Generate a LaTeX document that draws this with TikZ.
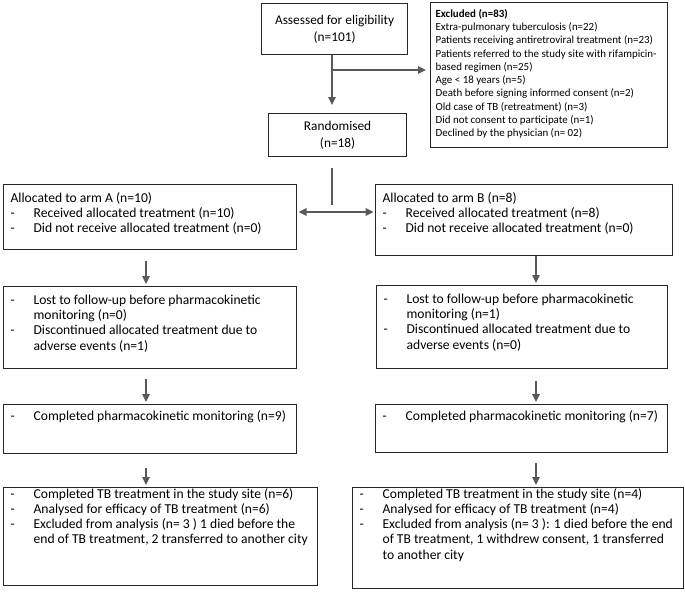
\documentclass[tikz,border=0pt]{standalone}
\usepackage{fontspec}
\setmainfont{Carlito}
\usetikzlibrary{arrows.meta,calc}
\definecolor{flowgray}{RGB}{89,89,89}
% top aligned box content: [top pad]{width}{height}{text}
\newcommand{\cbox}[4][5]{\parbox[t][#3][t]{#2}{\vspace*{#1pt}\raggedright\leftskip=5.25pt\relax #4}}
\newcommand{\itm}[1]{\par\hangindent=17.25pt\noindent\makebox[17.25pt][l]{\strut-}#1\par}

\begin{document}
\begin{tikzpicture}[x=0.75pt, y=-0.75pt,
    box/.style={draw=black!85, line width=0.9pt, inner sep=0pt, anchor=north west,
        font=\fontsize{10.2}{11.4}\selectfont},
    ctrbox/.style={box, align=center, font=\fontsize{10}{13}\selectfont},
    ln/.style={draw=flowgray, line width=1.5pt},
    arr/.style={ln, -{Triangle[length=6pt,width=5.5pt]}, shorten >=1.5pt},
    arrtwo/.style={ln, {Triangle[length=6pt,width=5.5pt]}-{Triangle[length=6pt,width=5.5pt]}}]
    \useasboundingbox (0,0) rectangle (685,594);

    % screening
    \node[ctrbox, minimum width=109.5pt, minimum height=38.25pt] (elig) at (261,3)
        {Assessed for eligibility\\(n=101)};
    \node[box] (excl) at (430,2) {\cbox[4]{177.75pt}{108.75pt}{\fontsize{8.2}{9.95}\selectfont\leftskip=3.75pt
        \strut\textbf{Excluded (n=83)}\\
        Extra-pulmonary tuberculosis (n=22)\\
        Patients receiving antiretroviral treatment (n=23)\\
        Patients referred to the study site with rifampicin-\\
        based regimen (n=25)\\
        Age < 18 years (n=5)\\
        Death before signing informed consent (n=2)\\
        Old case of TB (retreatment) (n=3)\\
        Did not consent to participate (n=1)\\
        Declined by the physician (n= 02)}};
    \node[ctrbox, minimum width=103.5pt, minimum height=32.25pt] (rand) at (268,113)
        {Randomised\\(n=18)};

    % arm A
    \node[box] (armA) at (3,184) {\cbox[5.4]{219.75pt}{48.75pt}{\strut Allocated to arm A (n=10)
        \itm{Received allocated treatment (n=10)}
        \itm{Did not receive allocated treatment (n=0)}}};
    \node[box] (lostA) at (3,286) {\cbox[5.4]{219.75pt}{61.5pt}{%
        \itm{Lost to follow-up before pharmacokinetic\newline monitoring (n=0)}
        \itm{Discontinued allocated treatment due to\newline adverse events (n=1)}}};
    \node[box] (pkA) at (3,404) {\cbox[4]{219.75pt}{36.75pt}{%
        \itm{Completed pharmacokinetic monitoring (n=9)}}};
    \node[box] (tbA) at (3,487) {\cbox[0]{235.5pt}{73.5pt}{%
        \itm{Completed TB treatment in the study site (n=6)}
        \itm{Analysed for efficacy of TB treatment (n=6)}
        \itm{Excluded from analysis (n= 3 ) 1 died before the\newline end of TB treatment, 2 transferred to another city}}};

    % arm B
    \node[box] (armB) at (375,184) {\cbox[5.4]{222.75pt}{53.25pt}{\strut Allocated to arm B (n=8)
        \itm{Received allocated treatment (n=8)}
        \itm{Did not receive allocated treatment (n=0)}}};
    \node[box] (lostB) at (376,285) {\cbox[5.4]{218.25pt}{62.25pt}{%
        \itm{Lost to follow-up before pharmacokinetic\newline monitoring (n=1)}
        \itm{Discontinued allocated treatment due to\newline adverse events (n=0)}}};
    \node[box] (pkB) at (375,404) {\cbox[4]{219pt}{36pt}{%
        \itm{Completed pharmacokinetic monitoring (n=7)}}};
    \node[box] (tbB) at (352,487) {\cbox[0]{248.25pt}{75.75pt}{%
        \itm{Completed TB treatment in the study site (n=4)}
        \itm{Analysed for efficacy of TB treatment (n=4)}
        \itm{Excluded from analysis (n= 3 ): 1 died before the~end\newline of TB treatment, 1 withdrew consent, 1~transferred\newline to another city}}};

    % connectors
    \coordinate (spine) at (332,0);
    \coordinate (split) at (332,70);
    \coordinate (rbot) at (332,205);
    \coordinate (fork) at (332,212);
    \coordinate (colA) at (146,0);
    \coordinate (colB) at (536,0);

    \draw[arr, shorten >=6pt] (elig.south -| spine) -- (rand.north -| spine);
    \draw[arr, shorten >=3pt] (split) -- (split -| excl.west);
    \draw[ln, shorten <=8pt] (rand.south -| spine) -- (rbot);
    \draw[arrtwo, shorten <=1pt, shorten >=1pt] (fork -| armA.east) -- (fork -| armB.west);

    \draw[arr, shorten <=8pt] (armA.south -| colA) -- (lostA.north -| colA);
    \draw[arr, shorten <=7.5pt] (lostA.south -| colA) -- (pkA.north -| colA);
    \draw[arr, shorten <=10pt] (pkA.south -| colA) -- (tbA.north -| colA);

    \draw[arr] (armB.south -| colB) -- (lostB.north -| colB);
    \draw[arr, shorten <=9pt] (lostB.south -| colB) -- (pkB.north -| colB);
    \draw[arr, shorten <=7.5pt] (pkB.south -| colB) -- (tbB.north -| colB);
\end{tikzpicture}
\end{document}
